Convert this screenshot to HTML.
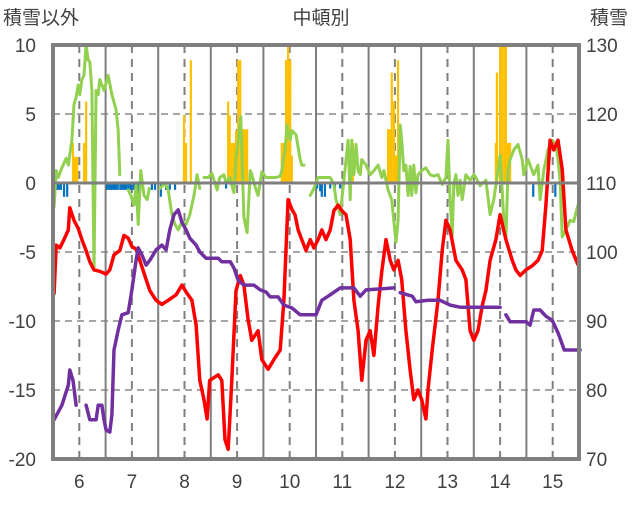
<!DOCTYPE html>
<html><head><meta charset="utf-8"><style>
html,body{margin:0;padding:0;background:#fff;}
svg text{font-family:"Liberation Sans","Noto Sans CJK JP",sans-serif;font-size:19px;fill:#404040;}
</style></head><body>
<svg id="chart" width="636" height="501" viewBox="0 0 636 501" xmlns="http://www.w3.org/2000/svg">
<g id="grid"></g>
<g id="bars"></g>
<g id="lines"></g>
<g id="axes"></g>
<text x="3" y="24">積雪以外</text>
<text x="321" y="24" text-anchor="middle">中頓別</text>
<text x="590" y="24">積雪</text>
</svg>
<script>
const leftTicks=[10,5,0,-5,-10,-15,-20];
const rightTicks=[130,120,110,100,90,80,70];
const dayLabels=[6,7,8,9,10,11,12,13,14,15];
const redT=[5.52,5.56,5.63,5.71,5.79,5.82,5.90,5.98,6.05,6.13,6.20,6.28,6.39,6.51,6.58,6.66,6.77,6.85,6.93,7.00,7.08,7.15,7.27,7.34,7.46,7.57,7.69,7.84,7.95,8.03,8.14,8.22,8.29,8.37,8.43,8.48,8.56,8.64,8.71,8.77,8.83,8.90,8.98,9.06,9.13,9.21,9.28,9.40,9.47,9.59,9.70,9.82,9.89,9.97,10.04,10.10,10.16,10.23,10.31,10.39,10.46,10.54,10.61,10.69,10.77,10.84,10.92,10.99,11.07,11.15,11.22,11.30,11.37,11.45,11.53,11.60,11.68,11.75,11.83,11.91,11.98,12.06,12.13,12.21,12.29,12.36,12.44,12.51,12.59,12.63,12.71,12.82,12.90,12.97,13.05,13.16,13.28,13.35,13.43,13.50,13.58,13.66,13.73,13.81,13.92,14.00,14.11,14.23,14.30,14.38,14.49,14.61,14.72,14.80,14.87,14.95,15.02,15.10,15.18,15.25,15.37,15.48];
const redV=[-8.0,-4.5,-4.7,-4.1,-3.4,-1.8,-2.7,-3.3,-4.1,-4.9,-5.7,-6.3,-6.4,-6.6,-6.3,-5.2,-4.9,-3.8,-4.0,-4.6,-4.8,-5.6,-7.0,-7.8,-8.5,-8.8,-8.5,-8.1,-7.4,-7.9,-8.5,-10.3,-14.3,-15.7,-17.1,-14.3,-14.1,-13.9,-14.3,-18.6,-19.3,-14.3,-7.8,-6.7,-7.4,-9.9,-11.4,-10.7,-12.8,-13.5,-12.8,-12.1,-8.5,-1.2,-1.9,-2.3,-3.4,-4.1,-4.9,-4.1,-4.7,-4.1,-3.4,-4.1,-3.4,-2.0,-1.6,-2.0,-2.3,-4.1,-8.5,-10.7,-14.3,-11.4,-10.7,-12.5,-8.9,-6.4,-4.1,-5.6,-6.3,-5.6,-7.0,-10.7,-13.6,-15.7,-15.0,-15.7,-17.1,-15.0,-12.1,-8.5,-4.9,-2.7,-3.4,-5.6,-6.3,-7.0,-10.7,-11.4,-10.7,-8.9,-7.8,-5.6,-4.1,-2.3,-4.1,-5.6,-6.3,-6.7,-6.3,-6.0,-5.6,-4.9,-1.6,3.1,2.4,3.1,1.0,-3.4,-4.9,-5.9];
const purpleT=[5.52,5.67,5.79,5.82,5.88,5.94,null,6.13,6.20,6.32,6.36,6.43,6.47,6.51,6.58,6.62,6.66,6.74,6.81,6.93,7.00,7.08,7.12,7.19,7.27,7.34,7.46,7.57,7.65,7.72,7.80,7.88,7.95,8.03,8.10,8.22,8.29,8.41,8.64,8.71,8.87,8.94,9.02,9.13,9.32,9.44,9.55,9.63,9.78,9.89,10.04,10.20,10.50,10.61,10.77,10.96,11.22,11.34,11.45,11.98,null,12.10,12.33,12.40,12.63,12.86,13.05,13.24,14.00,null,14.11,14.19,14.49,14.57,14.64,14.76,14.87,14.99,15.10,15.22,15.52];
const purpleV=[75.7,77.8,80.7,82.9,81.4,77.8,null,77.8,75.7,75.7,77.8,77.8,75.7,74.2,73.9,76.4,85.8,88.7,90.9,91.2,94.5,98.8,100.6,99.6,98.1,98.8,100.3,101.0,100.3,103.2,105.4,106.1,104.3,103.2,102.0,101.0,100.0,99.1,99.1,98.6,98.6,97.7,95.9,95.2,95.2,94.5,94.2,93.5,93.5,92.3,91.9,90.9,90.9,93.0,93.8,94.8,94.8,93.6,94.5,94.8,null,94.1,93.6,92.8,93.0,93.0,92.3,92.0,92.0,null,90.9,89.9,89.9,89.4,91.6,91.6,90.7,90.1,88.3,85.8,85.8];
const greenT=[5.52,5.56,5.60,5.67,5.75,5.79,5.86,5.90,5.94,5.98,6.01,6.05,6.09,6.13,6.17,6.20,6.24,6.28,6.32,6.36,6.39,6.43,6.47,6.55,6.62,6.70,6.74,6.77,null,6.93,6.98,7.04,7.08,7.12,7.17,7.23,7.29,7.33,null,7.53,7.63,7.69,7.76,7.82,7.88,7.95,8.03,8.10,8.18,8.24,8.29,null,8.37,8.45,8.52,8.62,8.67,8.75,8.79,8.86,8.94,8.98,9.02,9.07,9.13,9.19,9.25,9.28,9.36,9.40,9.47,9.55,9.63,9.74,9.82,9.85,9.91,9.95,10.01,10.04,10.12,10.20,10.23,10.27,null,10.39,10.46,10.54,10.61,10.77,10.84,10.88,10.96,10.99,11.03,11.11,11.15,11.18,11.22,11.26,11.30,11.34,11.37,11.45,11.53,11.60,11.68,11.75,11.79,11.87,11.94,12.02,12.06,12.10,12.13,12.17,12.21,12.25,12.29,12.32,12.36,12.40,12.44,12.51,12.59,12.67,12.74,12.82,12.90,12.97,13.01,13.05,13.09,13.12,13.16,13.20,13.24,13.28,13.35,13.43,13.50,13.54,13.62,13.73,13.81,13.88,13.96,14.00,14.04,14.08,14.11,14.15,14.19,14.26,14.34,14.42,14.45,14.53,14.61,14.64,14.72,14.76,14.83,14.91,14.99,15.06,15.10,15.14,15.18,15.25,15.33,15.40,15.48];
const greenV=[-1.7,0.9,0.4,1.1,1.8,1.3,3.1,5.7,6.2,7.1,6.4,7.5,7.8,10.0,8.9,8.8,6.7,-6.3,6.7,6.4,7.5,7.1,6.7,7.8,6.4,5.3,3.8,0.6,null,-0.5,-0.9,-1.6,-0.1,-3.0,0.9,-0.9,-1.2,-0.4,null,-0.4,0,-0.5,-2.3,-3.0,-3.4,-2.8,-3.0,-2.3,-0.9,0.6,-0.4,null,0.4,0.4,0.7,-0.5,0.4,0.6,0,0.4,-0.7,1.7,3.1,4.8,-2.5,-3.6,0.9,0.6,-0.5,-0.9,0.8,0.4,0.4,0.4,0.5,0.9,2.4,4.2,3.1,3.8,3.5,1.7,1.3,1.3,null,-0.9,-0.4,0.4,0.4,0.4,-0.1,-1.2,-2.3,-1.2,0.2,3.1,-1.2,3.1,0.6,2.8,0.9,0.6,1.7,1.3,0.6,0.9,1.3,0.4,0.9,-0.5,-1.2,-4.3,-2.7,4.2,3.1,0.9,1.3,-0.9,1.2,-0.9,1.3,-0.7,0.6,0.9,1.1,0.6,0.5,0.6,-0.1,0.4,3.1,-1.2,-3.8,-0.1,0.6,-0.9,0.2,-1.2,0.6,0.2,0.6,0.4,-0.2,0.2,-2.3,-1.2,0.9,2.0,-0.5,-3.4,-4.1,0.9,1.7,2.4,2.8,1.7,0.6,1.7,0.9,0.6,1.3,-1.2,0.9,2.4,3.1,2.8,1.7,0.2,-3.9,-3.4,-2.7,-2.8,-1.6];
const orangeT=[5.88,5.92,5.96,6.09,6.13,7.99,8.03,8.12,8.83,8.86,8.90,8.94,8.98,9.02,9.06,9.11,9.15,9.19,9.85,9.89,9.93,9.97,10.01,10.04,11.20,11.87,11.91,11.94,11.98,12.02,12.06,13.92,13.94,14.00,14.04,14.08,14.11,14.15,14.19];
const orangeV=[2.9,1.9,1.9,2.9,5.9,4.9,2.9,8.9,5.9,4.9,2.9,2.9,3.8,8.9,8.9,3.9,3.9,3.9,2.9,2.9,8.9,10,8.9,2.0,2.9,3.9,3.9,8.0,5.9,2.0,8.9,2.9,8.0,10,10,10,10,2.9,2.9];
const blueT=[5.58,5.61,5.65,5.71,5.77,6.53,6.57,6.61,6.65,6.69,6.73,6.78,6.82,6.86,6.90,6.94,6.98,7.03,7.07,7.11,7.15,7.38,7.44,7.55,7.65,7.72,7.82,8.79,10.52,10.58,10.61,10.67,10.77,10.86,10.96,13.18,14.63,15.05];
const blueV=[-0.5,-0.5,-0.5,-1.0,-1.0,-0.5,-0.5,-0.5,-0.5,-0.5,-0.5,-0.5,-0.5,-0.5,-0.5,-0.5,-0.5,-0.5,-1.0,-1.0,-0.5,-0.5,-0.5,-1.0,-0.5,-0.5,-0.5,-0.4,-0.4,-0.6,-1.0,-1.0,-0.4,-0.4,-0.4,-0.3,-1.0,-1.0];

const L=53,R=579,T=45,B=459;
const xs=t=>L+(t-5.5)*(R-L)/10;
const yl=v=>T+(10-v)*(B-T)/30;
const yr=v=>T+(130-v)*(B-T)/60;
const NS='http://www.w3.org/2000/svg';
function mk(tag,attrs,parent){const e=document.createElementNS(NS,tag);for(const k in attrs)e.setAttribute(k,attrs[k]);parent.appendChild(e);return e;}
const grid=document.getElementById('grid'),bars=document.getElementById('bars'),lines=document.getElementById('lines'),axes=document.getElementById('axes');
leftTicks.forEach((v,i)=>{
  if(v!==10&&v!==-20&&v!==0){const g=mk('line',{x1:L,x2:R,y1:yl(v),y2:yl(v),stroke:'#a6a6a6','stroke-width':2,'stroke-dasharray':'7,5'},grid);
  
  }
  const t=mk('text',{x:36,y:yl(v)+7,'text-anchor':'end'},axes);t.textContent=v;
  
  
});
rightTicks.forEach(v=>{
  const t=mk('text',{x:586,y:yr(v)+7},axes);t.textContent=v;
  
  
});
dayLabels.forEach(d=>{
  const x=xs(d);
  const g=mk('line',{x1:x,x2:x,y1:T,y2:B,stroke:'#7f7f7f','stroke-width':2,'stroke-dasharray':'8,6'},grid);
  
  
  if(d<15){const s=mk('line',{x1:xs(d+0.5),x2:xs(d+0.5),y1:T,y2:B,stroke:'#7f7f7f','stroke-width':2},grid);
  
  }
  const t=mk('text',{x:x,y:488,'text-anchor':'middle'},axes);t.textContent=d;
  
  
});
const bw=(R-L)/10/24;
function drawBars(T_,V_,color,name){T_.forEach((t,i)=>{const v=V_[i];const y0=yl(0),y1=yl(v);
  const r=mk('rect',{x:xs(t)-bw/2,y:Math.min(y0,y1),width:bw,height:Math.abs(y1-y0),fill:color},bars);
  
  });}
drawBars(orangeT,orangeV,'#FFC000','snowfall-bar');
drawBars(blueT,blueV,'#0070C0','negative-bar');
function drawLine(T_,V_,yf,color,w,name){let d='',pen=false;T_.forEach((t,i)=>{const v=V_[i];if(t===null||v===null){pen=false;return;}d+=(pen?'L':'M')+xs(t).toFixed(1)+','+yf(v).toFixed(1);pen=true;});
  const p=mk('path',{d:d,fill:'none',stroke:color,'stroke-width':w,'stroke-linejoin':'round','stroke-linecap':'round'},lines);
  
  }
drawLine(greenT,greenV,yl,'#92D050',3,'green-series-line');
drawLine(redT,redV,yl,'#FF0000',3.5,'red-series-line');
drawLine(purpleT,purpleV,yr,'#7030A0',3.5,'snow-depth-line');
const z=mk('line',{x1:L,x2:R,y1:yl(0),y2:yl(0),stroke:'#7f7f7f','stroke-width':3},axes);


const f=mk('rect',{x:L,y:T,width:R-L,height:B-T,fill:'none',stroke:'#7f7f7f','stroke-width':4},axes);


</script>
</body></html>
